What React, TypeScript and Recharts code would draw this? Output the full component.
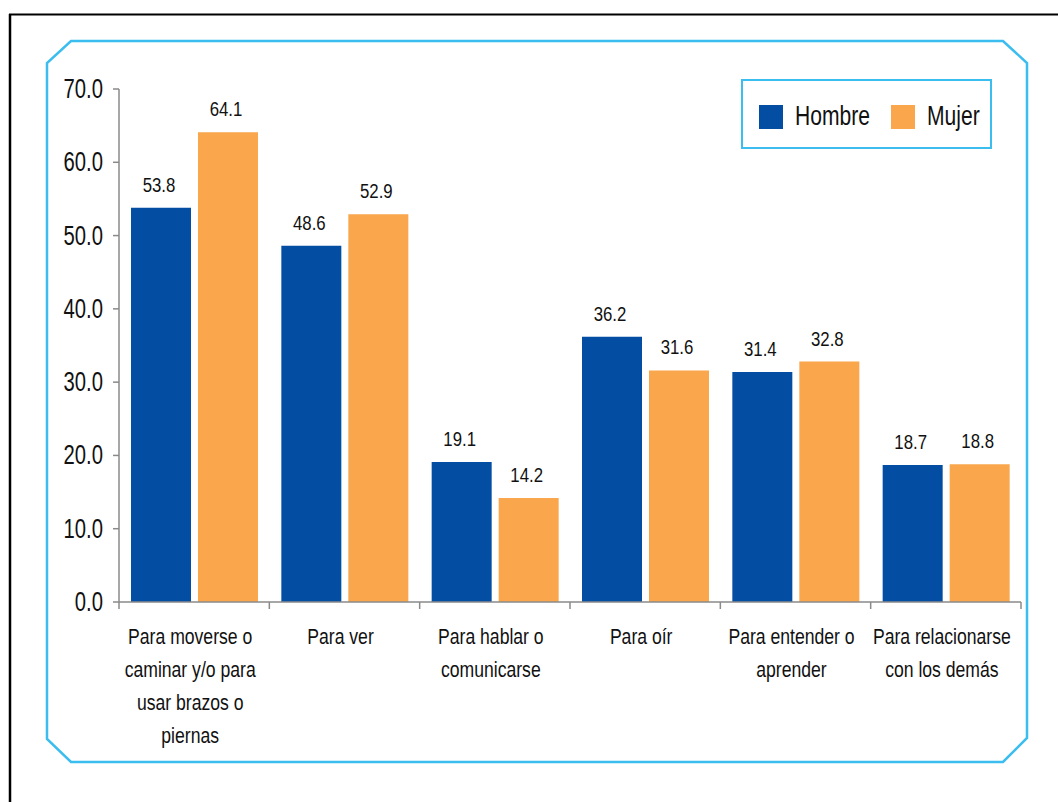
import { BarChart, Bar, XAxis, YAxis, LabelList } from 'recharts'

const categories = [
    'Para moverse o\ncaminar y/o para\nusar brazos o\npiernas',
    'Para ver',
    'Para hablar o\ncomunicarse',
    'Para oír',
    'Para entender o\naprender',
    'Para relacionarse\ncon los demás',
]
const hombre = [53.8, 48.6, 19.1, 36.2, 31.4, 18.7]
const mujer = [64.1, 52.9, 14.2, 31.6, 32.8, 18.8]
const yTicks = [0, 10, 20, 30, 40, 50, 60, 70]
const seriesNames = ['Hombre', 'Mujer']

const FONT = "'Liberation Sans', Arial, sans-serif"
const BLUE = '#034EA2'
const ORANGE = '#F9A64C'
const CYAN = '#3BBEEF'
const AXIS = '#8a8a8a'
const TEXT = '#111'

const data = categories.map((name, i) => ({
    name,
    hombre: hombre[i],
    mujer: mujer[i],
}))

// narrow-looking text: Arial squeezed horizontally
function NarrowText({ x, y, size, sx, anchor = 'middle', children }: any) {
    return (
        <text
            transform={`translate(${x},${y}) scale(${sx},1)`}
            textAnchor={anchor}
            fontSize={size}
            fontFamily={FONT}
            fill={TEXT}
        >
            {children}
        </text>
    )
}

function CategoryTick(props: any) {
    const { x, y, payload, index, visibleTicksCount } = props
    const half = payload?.offset ?? 75
    const lines = String(payload.value).split('\n')
    const isLast = index === (visibleTicksCount ?? categories.length) - 1
    return (
        <g>
            <line x1={x - half} x2={x - half} y1={y} y2={y + 7} stroke={AXIS} strokeWidth={1.5} />
            {isLast && (
                <line x1={x + half} x2={x + half} y1={y} y2={y + 7} stroke={AXIS} strokeWidth={1.5} />
            )}
            {lines.map((ln, i) => (
                <NarrowText key={i} x={x - 4} y={y + 42 + i * 33} size={22} sx={0.8}>
                    {ln}
                </NarrowText>
            ))}
        </g>
    )
}

function ValueTick(props: any) {
    const { x, y, payload } = props
    return (
        <NarrowText x={x} y={y + 9} size={27} sx={0.75} anchor="end">
            {Number(payload.value).toFixed(1)}
        </NarrowText>
    )
}

function BarValue(props: any) {
    const { x, y, width, value } = props
    return (
        <NarrowText x={Number(x) + Number(width) / 2 - 2} y={Number(y) - 16} size={21} sx={0.8}>
            {Number(value).toFixed(1)}
        </NarrowText>
    )
}

function LegendBox() {
    const colors = [BLUE, ORANGE]
    return (
        <div
            style={{
                position: 'absolute',
                left: 741,
                top: 79,
                width: 251,
                height: 70,
                border: `2px solid ${CYAN}`,
                boxSizing: 'border-box',
                fontFamily: FONT,
                fontSize: 27,
                color: TEXT,
            }}
        >
            {seriesNames.map((name, i) => (
                <div key={name} style={{ position: 'absolute', left: i === 0 ? 16 : 148, top: 24, height: 24 }}>
                    <span style={{ position: 'absolute', left: 0, top: 0, width: 24, height: 24, background: colors[i] }} />
                    <span
                        style={{
                            position: 'absolute',
                            left: 36,
                            top: -6,
                            whiteSpace: 'nowrap',
                            transform: 'scaleX(0.78)',
                            transformOrigin: 'left center',
                            lineHeight: '34px',
                        }}
                    >
                        {name}
                    </span>
                </div>
            ))}
        </div>
    )
}

export default function App() {
    return (
        <div style={{ position: 'absolute', left: 0, top: 0, width: 1058, height: 802, background: '#fff' }}>
            <svg width={1058} height={802} style={{ position: 'absolute', left: 0, top: 0 }}>
                <line x1={9} y1={14.5} x2={1058} y2={14.5} stroke="#000" strokeWidth={2} />
                <line x1={10} y1={14} x2={10} y2={802} stroke="#000" strokeWidth={2.5} />
                <polygon
                    points="71,41 1003,41 1027,63 1027,738 1003,762 71,762 47,739 47,63"
                    fill="none"
                    stroke={CYAN}
                    strokeWidth={2.5}
                />
            </svg>
            <div style={{ position: 'absolute', left: 0, top: 0 }}>
                <BarChart
                    width={1058}
                    height={802}
                    data={data}
                    margin={{ top: 89, right: 37, left: 59, bottom: 50 }}
                    barSize={60}
                    barGap={7}
                    barCategoryGap={11}
                >
                    <XAxis
                        dataKey="name"
                        height={150}
                        interval={0}
                        tickLine={false}
                        tickSize={0}
                        tickMargin={0}
                        axisLine={{ stroke: AXIS, strokeWidth: 1.5 }}
                        tick={<CategoryTick />}
                    />
                    <YAxis
                        width={60}
                        domain={[0, 70]}
                        ticks={yTicks}
                        interval={0}
                        tickSize={6}
                        tickMargin={10}
                        axisLine={{ stroke: AXIS, strokeWidth: 1.5 }}
                        tickLine={{ stroke: AXIS, strokeWidth: 1.5 }}
                        tick={<ValueTick />}
                    />
                    <Bar dataKey="hombre" name={seriesNames[0]} fill={BLUE} isAnimationActive={false}>
                        <LabelList dataKey="hombre" content={<BarValue />} />
                    </Bar>
                    <Bar dataKey="mujer" name={seriesNames[1]} fill={ORANGE} isAnimationActive={false}>
                        <LabelList dataKey="mujer" content={<BarValue />} />
                    </Bar>
                </BarChart>
            </div>
            <LegendBox />
        </div>
    )
}
